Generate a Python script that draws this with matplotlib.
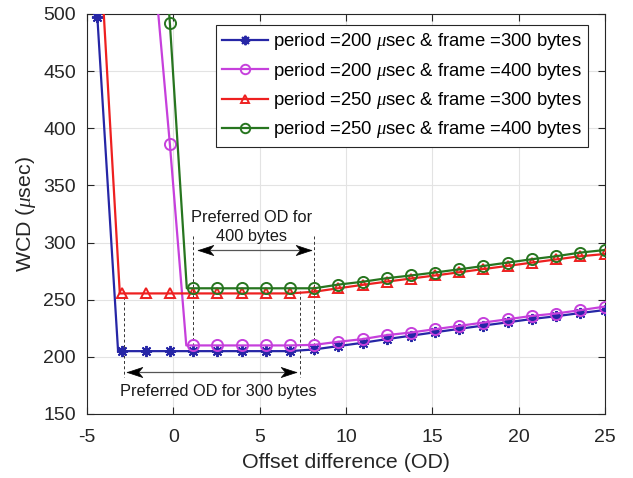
import numpy as np
import matplotlib
matplotlib.use("Agg")
import matplotlib.pyplot as plt
from matplotlib.path import Path

plt.rcParams['font.family'] = ['Liberation Sans', 'DejaVu Sans']
plt.rcParams['mathtext.fontset'] = 'custom'
plt.rcParams['mathtext.rm'] = 'Liberation Sans'
plt.rcParams['mathtext.it'] = 'Liberation Serif:italic'
plt.rcParams['axes.unicode_minus'] = False

# Offset difference at each marked sample
od = [-4.4, -3.0, -1.6, -0.2, 1.16, 2.55, 3.96, 5.37, 6.75, 8.16, 9.55,
      10.96, 12.35, 13.76, 15.15, 16.56, 17.95, 19.36, 20.75, 22.15, 23.55, 25.0]

# Worst-case delay (usec) per configuration
wcd_p200_f300 = [497, 205, 205, 205, 205, 205, 205, 205, 205, 206.5, 209.4,
                 212.3, 215.5, 218.5, 221.5, 224.5, 227.4, 230.2, 233.1, 235.5, 238.3, 241]
wcd_p200_f400 = [np.nan, np.nan, 624, 386, 210, 210, 210, 210, 210, 210.5, 213.2,
                 215.5, 219, 221.3, 224.2, 227.1, 230, 232.9, 235.8, 237.9, 240.8, 244]
wcd_p250_f300 = [598, 255.5, 255.5, 255.5, 255.5, 255.5, 255.5, 255.5, 255.5, 257, 260,
                 263, 265.8, 268.5, 271.2, 274, 276.8, 279.6, 282.4, 285.2, 288, 290]
wcd_p250_f400 = [np.nan, np.nan, 780, 492, 260, 260, 260, 260, 260, 260, 263.2,
                 265.7, 268.8, 271.2, 273.8, 276.6, 279.5, 282.5, 285.4, 288, 291.2, 293.5]

# Point where each curve levels off onto its plateau
knee_od = [-3.2, 0.75, -3.1, 0.78]
knee_wcd = [205, 210, 255.5, 260]

labels = [r'period =200 $\mu$sec & frame =300 bytes',
          r'period =200 $\mu$sec & frame =400 bytes',
          r'period =250 $\mu$sec & frame =300 bytes',
          r'period =250 $\mu$sec & frame =400 bytes']
colors = ['#2626a6', '#c640dc', '#ee2020', '#27751f']
markers = [(8, 2, 0), 'o', '^', 'o']
marker_sizes = [8, 8, 7.5, 8]
series = [wcd_p200_f300, wcd_p200_f400, wcd_p250_f300, wcd_p250_f400]

# Preferred OD ranges
pref300_x = [-2.85, 7.33]
pref300_y = [258, 182]
pref300_arrow = [-2.7, 7.12, 187]
pref400_x = [1.16, 8.16]
pref400_y = [306, 202]
pref400_arrow = [1.45, 7.97, 293.5]

fig = plt.figure(figsize=(6.33, 4.78), dpi=100)
ax = fig.add_axes([87 / 633, 64 / 478, 518 / 633, 400 / 478])

for ys, kx, ky, lab, col, mk, ms in zip(series, knee_od, knee_wcd, labels,
                                         colors, markers, marker_sizes):
    xs = list(od)
    yv = list(ys)
    pos = int(np.searchsorted(xs, kx))
    xs.insert(pos, kx)
    yv.insert(pos, ky)
    mark_idx = [i for i in range(len(xs)) if i != pos]
    ax.plot(xs, yv, color=col, lw=1.6, marker=mk, markevery=mark_idx,
            markersize=ms, markerfacecolor='none', markeredgecolor=col,
            markeredgewidth=1.4, label=lab, zorder=3)

# Dashed guide lines
dash = dict(color='#333333', lw=0.7, ls=(0, (3, 2.5)), zorder=2)
for x in pref300_x:
    ax.plot([x, x], pref300_y, **dash)
for x in pref400_x:
    ax.plot([x, x], pref400_y, **dash)

# Notched arrowheads
head_r = Path([(0, 0), (-1, 0.33), (-0.72, 0), (-1, -0.33), (0, 0)],
              [Path.MOVETO, Path.LINETO, Path.LINETO, Path.LINETO, Path.CLOSEPOLY])
head_l = Path([(0, 0), (1, 0.33), (0.72, 0), (1, -0.33), (0, 0)],
              [Path.MOVETO, Path.LINETO, Path.LINETO, Path.LINETO, Path.CLOSEPOLY])
for x0, x1, y in [pref300_arrow, pref400_arrow]:
    ax.plot([x0, x1], [y, y], color='#555555', lw=0.9, zorder=2)
    ax.plot([x0], [y], marker=head_l, ms=22, color='black', mew=0.5, zorder=4)
    ax.plot([x1], [y], marker=head_r, ms=22, color='black', mew=0.5, zorder=4)

ax.text(2.6, 169.5, 'Preferred OD for 300 bytes', fontsize=11.8, ha='center',
        va='center', color='#1a1a1a')
ax.text(4.55, 313.5, 'Preferred OD for\n400 bytes', fontsize=11.8, ha='center',
        va='center', color='#1a1a1a', linespacing=1.38)

ax.set_xlim(-5, 25)
ax.set_ylim(150, 500)
ax.set_xticks(np.arange(-5, 26, 5))
ax.set_yticks(np.arange(150, 501, 50))
ax.grid(True, color='#e3e3e3', lw=0.8, zorder=0)
ax.set_axisbelow(True)
ax.tick_params(direction='in', length=5, width=0.8, top=True, right=True,
               labelsize=14, colors='#262626', pad=8)
ax.tick_params(axis='x', pad=11)
for s in ax.spines.values():
    s.set_color('#262626')
    s.set_linewidth(0.8)

ax.set_xlabel('Offset difference (OD)', fontsize=15.4, color='#262626', labelpad=5)
ax.set_ylabel(r'WCD ($\mu$sec)', fontsize=15.4, color='#262626', labelpad=4)

leg = ax.legend(loc='upper right', bbox_to_anchor=(0.968, 0.9725), borderaxespad=0,
                fontsize=13.3, handlelength=2.5, handletextpad=0.25,
                labelspacing=0.45, borderpad=0.35, fancybox=False, framealpha=1,
                edgecolor='#262626', markerscale=0.85)
leg.get_frame().set_linewidth(0.8)

fig.savefig('out.png', dpi=100)
